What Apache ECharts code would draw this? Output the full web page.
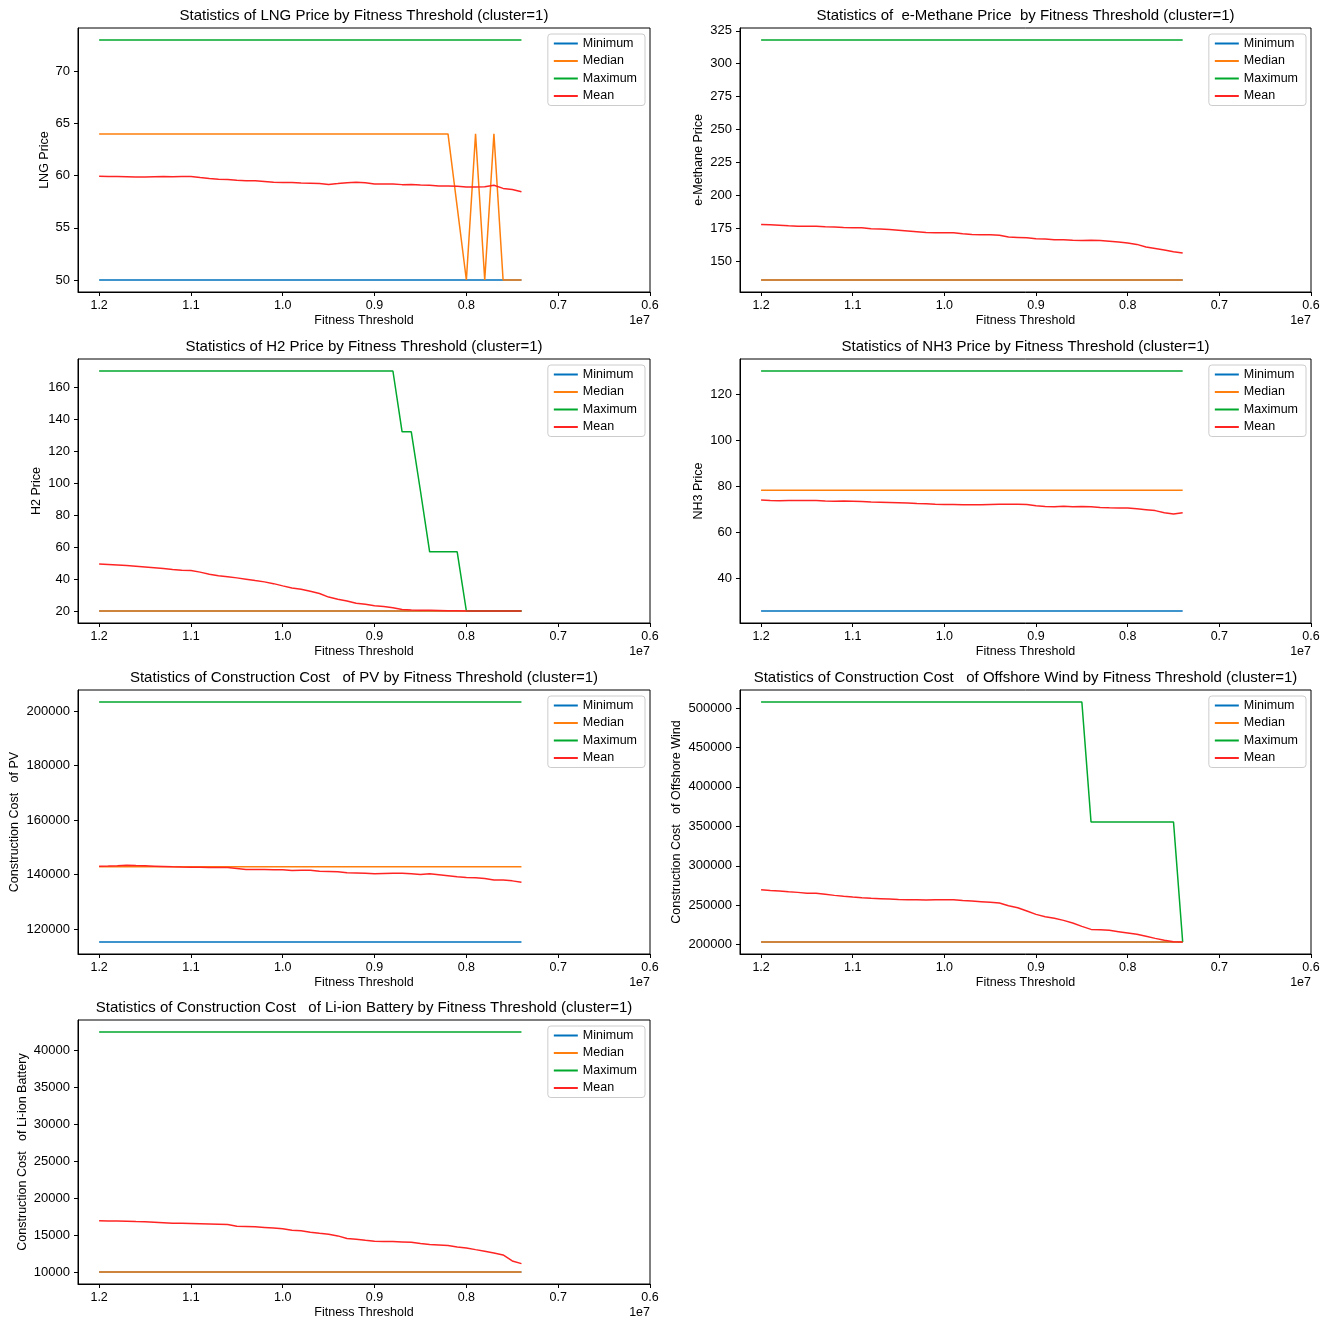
<!DOCTYPE html>
<html>
<head>
<meta charset="utf-8">
<script src="https://cdn.jsdelivr.net/npm/echarts@6/dist/echarts.min.js"></script>
<style>
  html, body { margin: 0; padding: 0; background: #fff; }
  #chart { width: 1329px; height: 1326px; }
</style>
</head>
<body>
<div id="chart"></div>
<script>
// fitness threshold, in units of 1e7
const thresholds = [
  1.20, 1.19, 1.18, 1.17, 1.16, 1.15, 1.14, 1.13, 1.12, 1.11,
  1.10, 1.09, 1.08, 1.07, 1.06, 1.05, 1.04, 1.03, 1.02, 1.01,
  1.00, 0.99, 0.98, 0.97, 0.96, 0.95, 0.94, 0.93, 0.92, 0.91,
  0.90, 0.89, 0.88, 0.87, 0.86, 0.85, 0.84, 0.83, 0.82, 0.81,
  0.80, 0.79, 0.78, 0.77, 0.76, 0.75, 0.74
]
const xTicks = [1.2, 1.1, 1.0, 0.9, 0.8, 0.7, 0.6]
const seriesNames = ['Minimum', 'Median', 'Maximum', 'Mean']

// LNG price
const lngMin = [
  50, 50, 50, 50, 50, 50, 50, 50, 50, 50,
  50, 50, 50, 50, 50, 50, 50, 50, 50, 50,
  50, 50, 50, 50, 50, 50, 50, 50, 50, 50,
  50, 50, 50, 50, 50, 50, 50, 50, 50, 50,
  50, 50, 50, 50, 50, 50, 50
]
const lngMedian = [
  64, 64, 64, 64, 64, 64, 64, 64, 64, 64,
  64, 64, 64, 64, 64, 64, 64, 64, 64, 64,
  64, 64, 64, 64, 64, 64, 64, 64, 64, 64,
  64, 64, 64, 64, 64, 64, 64, 64, 64, 57,
  50, 64, 50, 64, 50, 50, 50
]
const lngMax = [
  73, 73, 73, 73, 73, 73, 73, 73, 73, 73,
  73, 73, 73, 73, 73, 73, 73, 73, 73, 73,
  73, 73, 73, 73, 73, 73, 73, 73, 73, 73,
  73, 73, 73, 73, 73, 73, 73, 73, 73, 73,
  73, 73, 73, 73, 73, 73, 73
]
const lngMean = [
  59.94, 59.93, 59.92, 59.90, 59.88, 59.88, 59.90, 59.91, 59.90, 59.92,
  59.93, 59.82, 59.72, 59.66, 59.64, 59.55, 59.52, 59.52, 59.45, 59.37,
  59.34, 59.34, 59.30, 59.28, 59.24, 59.16, 59.24, 59.33, 59.36, 59.33,
  59.21, 59.20, 59.21, 59.14, 59.15, 59.10, 59.07, 59.02, 59.00, 58.98,
  58.91, 58.92, 58.93, 59.08, 58.78, 58.68, 58.45
]

// e-Methane price
const methaneMin = [
  136, 136, 136, 136, 136, 136, 136, 136, 136, 136,
  136, 136, 136, 136, 136, 136, 136, 136, 136, 136,
  136, 136, 136, 136, 136, 136, 136, 136, 136, 136,
  136, 136, 136, 136, 136, 136, 136, 136, 136, 136,
  136, 136, 136, 136, 136, 136, 136
]
const methaneMedian = [
  136, 136, 136, 136, 136, 136, 136, 136, 136, 136,
  136, 136, 136, 136, 136, 136, 136, 136, 136, 136,
  136, 136, 136, 136, 136, 136, 136, 136, 136, 136,
  136, 136, 136, 136, 136, 136, 136, 136, 136, 136,
  136, 136, 136, 136, 136, 136, 136
]
const methaneMax = [
  318, 318, 318, 318, 318, 318, 318, 318, 318, 318,
  318, 318, 318, 318, 318, 318, 318, 318, 318, 318,
  318, 318, 318, 318, 318, 318, 318, 318, 318, 318,
  318, 318, 318, 318, 318, 318, 318, 318, 318, 318,
  318, 318, 318, 318, 318, 318, 318
]
const methaneMean = [
  178.1, 177.9, 177.6, 177.1, 176.8, 176.8, 176.7, 176.3, 176.1, 175.8,
  175.6, 175.6, 174.8, 174.6, 174.3, 173.8, 173.2, 172.6, 172.0, 171.8,
  171.8, 171.8, 171.1, 170.5, 170.4, 170.3, 170.0, 168.6, 168.3, 168.0,
  167.3, 167.0, 166.5, 166.5, 166.2, 166.0, 166.1, 165.9, 165.4, 164.8,
  164.0, 163.0, 161.0, 159.9, 158.8, 157.5, 156.4
]

// H2 price
const h2Min = [
  20, 20, 20, 20, 20, 20, 20, 20, 20, 20,
  20, 20, 20, 20, 20, 20, 20, 20, 20, 20,
  20, 20, 20, 20, 20, 20, 20, 20, 20, 20,
  20, 20, 20, 20, 20, 20, 20, 20, 20, 20,
  20, 20, 20, 20, 20, 20, 20
]
const h2Median = [
  20, 20, 20, 20, 20, 20, 20, 20, 20, 20,
  20, 20, 20, 20, 20, 20, 20, 20, 20, 20,
  20, 20, 20, 20, 20, 20, 20, 20, 20, 20,
  20, 20, 20, 20, 20, 20, 20, 20, 20, 20,
  20, 20, 20, 20, 20, 20, 20
]
const h2Max = [
  170, 170, 170, 170, 170, 170, 170, 170, 170, 170,
  170, 170, 170, 170, 170, 170, 170, 170, 170, 170,
  170, 170, 170, 170, 170, 170, 170, 170, 170, 170,
  170, 170, 170, 132, 132, 95, 57, 57, 57, 57,
  20, 20, 20, 20, 20, 20, 20
]
const h2Mean = [
  49.3, 49.0, 48.7, 48.4, 48.0, 47.5, 47.0, 46.5, 45.9, 45.5,
  45.3, 44.3, 43.0, 42.0, 41.4, 40.7, 39.9, 39.0, 38.2, 37.1,
  35.7, 34.4, 33.6, 32.3, 30.9, 28.7, 27.4, 26.2, 24.9, 24.2,
  23.3, 22.8, 22.1, 21.0, 20.6, 20.4, 20.4, 20.3, 20.2, 20.1,
  20.0, 20.0, 20.0, 20.0, 20.0, 20.0, 20.0
]

// NH3 price
const nh3Min = [
  26, 26, 26, 26, 26, 26, 26, 26, 26, 26,
  26, 26, 26, 26, 26, 26, 26, 26, 26, 26,
  26, 26, 26, 26, 26, 26, 26, 26, 26, 26,
  26, 26, 26, 26, 26, 26, 26, 26, 26, 26,
  26, 26, 26, 26, 26, 26, 26
]
const nh3Median = [
  78.3, 78.3, 78.3, 78.3, 78.3, 78.3, 78.3, 78.3, 78.3, 78.3,
  78.3, 78.3, 78.3, 78.3, 78.3, 78.3, 78.3, 78.3, 78.3, 78.3,
  78.3, 78.3, 78.3, 78.3, 78.3, 78.3, 78.3, 78.3, 78.3, 78.3,
  78.3, 78.3, 78.3, 78.3, 78.3, 78.3, 78.3, 78.3, 78.3, 78.3,
  78.3, 78.3, 78.3, 78.3, 78.3, 78.3, 78.3
]
const nh3Max = [
  130, 130, 130, 130, 130, 130, 130, 130, 130, 130,
  130, 130, 130, 130, 130, 130, 130, 130, 130, 130,
  130, 130, 130, 130, 130, 130, 130, 130, 130, 130,
  130, 130, 130, 130, 130, 130, 130, 130, 130, 130,
  130, 130, 130, 130, 130, 130, 130
]
const nh3Mean = [
  74.1, 73.9, 73.8, 73.9, 73.9, 73.9, 73.9, 73.7, 73.6, 73.7,
  73.6, 73.4, 73.2, 73.1, 73.0, 72.9, 72.8, 72.6, 72.5, 72.3,
  72.2, 72.1, 72.0, 72.0, 72.0, 72.2, 72.3, 72.3, 72.3, 72.2,
  71.6, 71.3, 71.2, 71.4, 71.2, 71.3, 71.2, 70.9, 70.7, 70.6,
  70.6, 70.3, 69.9, 69.5, 68.6, 68.0, 68.6
]

// construction cost of PV
const pvMin = [
  115200, 115200, 115200, 115200, 115200, 115200, 115200, 115200, 115200, 115200,
  115200, 115200, 115200, 115200, 115200, 115200, 115200, 115200, 115200, 115200,
  115200, 115200, 115200, 115200, 115200, 115200, 115200, 115200, 115200, 115200,
  115200, 115200, 115200, 115200, 115200, 115200, 115200, 115200, 115200, 115200,
  115200, 115200, 115200, 115200, 115200, 115200, 115200
]
const pvMedian = [
  142800, 142800, 142800, 142800, 142800, 142800, 142800, 142800, 142800, 142800,
  142800, 142800, 142800, 142800, 142800, 142800, 142800, 142800, 142800, 142800,
  142800, 142800, 142800, 142800, 142800, 142800, 142800, 142800, 142800, 142800,
  142800, 142800, 142800, 142800, 142800, 142800, 142800, 142800, 142800, 142800,
  142800, 142800, 142800, 142800, 142800, 142800, 142800
]
const pvMax = [
  203300, 203300, 203300, 203300, 203300, 203300, 203300, 203300, 203300, 203300,
  203300, 203300, 203300, 203300, 203300, 203300, 203300, 203300, 203300, 203300,
  203300, 203300, 203300, 203300, 203300, 203300, 203300, 203300, 203300, 203300,
  203300, 203300, 203300, 203300, 203300, 203300, 203300, 203300, 203300, 203300,
  203300, 203300, 203300, 203300, 203300, 203300, 203300
]
const pvMean = [
  143030, 143080, 143200, 143400, 143250, 143150, 143050, 142950, 142800, 142700,
  142660, 142600, 142540, 142560, 142540, 142170, 141800, 141800, 141800, 141750,
  141680, 141440, 141500, 141560, 141190, 141100, 140950, 140580, 140520, 140460,
  140210, 140330, 140460, 140460, 140210, 139970, 140210, 139850, 139480, 139110,
  138870, 138740, 138500, 138000, 138000, 137640, 137150
]

// construction cost of offshore wind
const windMin = [
  203400, 203400, 203400, 203400, 203400, 203400, 203400, 203400, 203400, 203400,
  203400, 203400, 203400, 203400, 203400, 203400, 203400, 203400, 203400, 203400,
  203400, 203400, 203400, 203400, 203400, 203400, 203400, 203400, 203400, 203400,
  203400, 203400, 203400, 203400, 203400, 203400, 203400, 203400, 203400, 203400,
  203400, 203400, 203400, 203400, 203400, 203400, 203400
]
const windMedian = [
  203400, 203400, 203400, 203400, 203400, 203400, 203400, 203400, 203400, 203400,
  203400, 203400, 203400, 203400, 203400, 203400, 203400, 203400, 203400, 203400,
  203400, 203400, 203400, 203400, 203400, 203400, 203400, 203400, 203400, 203400,
  203400, 203400, 203400, 203400, 203400, 203400, 203400, 203400, 203400, 203400,
  203400, 203400, 203400, 203400, 203400, 203400, 203400
]
const windMax = [
  507600, 507600, 507600, 507600, 507600, 507600, 507600, 507600, 507600, 507600,
  507600, 507600, 507600, 507600, 507600, 507600, 507600, 507600, 507600, 507600,
  507600, 507600, 507600, 507600, 507600, 507600, 507600, 507600, 507600, 507600,
  507600, 507600, 507600, 507600, 507600, 507600, 355500, 355500, 355500, 355500,
  355500, 355500, 355500, 355500, 355500, 355500, 203400
]
const windMean = [
  269700, 268800, 268000, 267100, 266300, 265100, 265100, 263800, 262500, 261400,
  260400, 259500, 258700, 258300, 257900, 257400, 257000, 256800, 256600, 256800,
  257000, 257000, 256100, 255300, 254500, 253700, 252800, 249400, 246900, 242700,
  238400, 235500, 233400, 230800, 227500, 223200, 219400, 219000, 218200, 216500,
  214800, 213100, 210600, 208000, 205500, 203800, 203400
]

// construction cost of Li-ion battery
const batteryMin = [
  10090, 10090, 10090, 10090, 10090, 10090, 10090, 10090, 10090, 10090,
  10090, 10090, 10090, 10090, 10090, 10090, 10090, 10090, 10090, 10090,
  10090, 10090, 10090, 10090, 10090, 10090, 10090, 10090, 10090, 10090,
  10090, 10090, 10090, 10090, 10090, 10090, 10090, 10090, 10090, 10090,
  10090, 10090, 10090, 10090, 10090, 10090, 10090
]
const batteryMedian = [
  10090, 10090, 10090, 10090, 10090, 10090, 10090, 10090, 10090, 10090,
  10090, 10090, 10090, 10090, 10090, 10090, 10090, 10090, 10090, 10090,
  10090, 10090, 10090, 10090, 10090, 10090, 10090, 10090, 10090, 10090,
  10090, 10090, 10090, 10090, 10090, 10090, 10090, 10090, 10090, 10090,
  10090, 10090, 10090, 10090, 10090, 10090, 10090
]
const batteryMax = [
  42470, 42470, 42470, 42470, 42470, 42470, 42470, 42470, 42470, 42470,
  42470, 42470, 42470, 42470, 42470, 42470, 42470, 42470, 42470, 42470,
  42470, 42470, 42470, 42470, 42470, 42470, 42470, 42470, 42470, 42470,
  42470, 42470, 42470, 42470, 42470, 42470, 42470, 42470, 42470, 42470,
  42470, 42470, 42470, 42470, 42470, 42470, 42470
]
const batteryMean = [
  16990, 16970, 16960, 16950, 16900, 16860, 16800, 16740, 16680, 16660,
  16630, 16600, 16570, 16540, 16490, 16270, 16230, 16180, 16110, 16040,
  15910, 15730, 15640, 15460, 15320, 15190, 14960, 14600, 14510, 14370,
  14240, 14220, 14190, 14150, 14100, 13920, 13790, 13740, 13650, 13470,
  13340, 13110, 12890, 12660, 12390, 11580, 11220
]

// y tick labels per panel
const lngTicks = [50, 55, 60, 65, 70]
const methaneTicks = [150, 175, 200, 225, 250, 275, 300, 325]
const h2Ticks = [20, 40, 60, 80, 100, 120, 140, 160]
const nh3Ticks = [40, 60, 80, 100, 120]
const pvTicks = [120000, 140000, 160000, 180000, 200000]
const windTicks = [200000, 250000, 300000, 350000, 400000, 450000, 500000]
const batteryTicks = [10000, 15000, 20000, 25000, 30000, 35000, 40000]

const panels = [
  { title: 'Statistics of LNG Price by Fitness Threshold (cluster=1)', ylabel: 'LNG Price',
    data: [lngMin, lngMedian, lngMax, lngMean], ticks: lngTicks, row: 0, col: 0, gap: 27 },
  { title: 'Statistics of  e-Methane Price  by Fitness Threshold (cluster=1)', ylabel: 'e-Methane Price',
    data: [methaneMin, methaneMedian, methaneMax, methaneMean], ticks: methaneTicks, row: 0, col: 1, gap: 35 },
  { title: 'Statistics of H2 Price by Fitness Threshold (cluster=1)', ylabel: 'H2 Price',
    data: [h2Min, h2Median, h2Max, h2Mean], ticks: h2Ticks, row: 1, col: 0, gap: 35 },
  { title: 'Statistics of NH3 Price by Fitness Threshold (cluster=1)', ylabel: 'NH3 Price',
    data: [nh3Min, nh3Median, nh3Max, nh3Mean], ticks: nh3Ticks, row: 1, col: 1, gap: 35 },
  { title: 'Statistics of Construction Cost   of PV by Fitness Threshold (cluster=1)', ylabel: 'Construction Cost   of PV',
    data: [pvMin, pvMedian, pvMax, pvMean], ticks: pvTicks, row: 2, col: 0, gap: 57 },
  { title: 'Statistics of Construction Cost   of Offshore Wind by Fitness Threshold (cluster=1)', ylabel: 'Construction Cost   of Offshore Wind',
    data: [windMin, windMedian, windMax, windMean], ticks: windTicks, row: 2, col: 1, gap: 57 },
  { title: 'Statistics of Construction Cost   of Li-ion Battery by Fitness Threshold (cluster=1)', ylabel: 'Construction Cost   of Li-ion Battery',
    data: [batteryMin, batteryMedian, batteryMax, batteryMean], ticks: batteryTicks, row: 3, col: 0, gap: 49 }
]

const colors = ['#0072bd', '#ff7f0e', '#00a82d', '#ff2424']
const FONT = 'Liberation Sans'
const colLeft = [78, 740]
const colWidth = [572, 571]
const rowTop = [28, 359, 690, 1020]
const plotH = 264

// x range like matplotlib: 5% margin on the data side, fixed 0.6 on the other
const xLo = Math.min(...thresholds)
const xHi = Math.max(...thresholds)
const xMaxAxis = xHi + 0.05 * (xHi - xLo)

const option = {
  animation: false,
  backgroundColor: '#fff',
  title: [], grid: [], xAxis: [], yAxis: [], legend: [], series: [], graphic: []
}

panels.forEach((p, i) => {
  const left = colLeft[p.col]
  const width = colWidth[p.col]
  const top = rowTop[p.row]
  const all = [].concat(...p.data)
  const lo = Math.min(...all)
  const hi = Math.max(...all)
  const pad = 0.05 * (hi - lo)

  option.title.push({
    text: p.title, left: left + width / 2, top: top - 20, textAlign: 'center', padding: 0,
    textStyle: { fontFamily: FONT, fontSize: 15, fontWeight: 'normal', color: '#000' }
  })
  option.grid.push({
    left: left, top: top, width: width, height: plotH,
    show: true, borderColor: '#000', borderWidth: 1, backgroundColor: 'transparent'
  })
  option.xAxis.push({
    type: 'value', gridIndex: i, inverse: true, min: 0.6, max: xMaxAxis,
    name: 'Fitness Threshold', nameLocation: 'middle', nameGap: 22,
    nameTextStyle: { fontFamily: FONT, fontSize: 12.5, color: '#000' },
    axisLine: { onZero: false, lineStyle: { color: '#000', width: 1 } },
    axisTick: { inside: false, length: 4, lineStyle: { color: '#000' }, customValues: xTicks },
    axisLabel: { margin: 7, fontFamily: FONT, fontSize: 12.5, color: '#000', customValues: xTicks,
      formatter: v => v.toFixed(1) },
    splitLine: { show: false }
  })
  option.yAxis.push({
    type: 'value', gridIndex: i, min: lo - pad, max: hi + pad,
    name: p.ylabel, nameLocation: 'middle', nameGap: p.gap, nameRotate: 90,
    nameTextStyle: { fontFamily: FONT, fontSize: 12.5, color: '#000' },
    axisLine: { show: true, lineStyle: { color: '#000', width: 1 } },
    axisTick: { show: true, inside: false, length: 4, lineStyle: { color: '#000' }, customValues: p.ticks },
    axisLabel: { margin: 8, fontFamily: FONT, fontSize: 13, color: '#000', customValues: p.ticks,
      formatter: v => String(v) },
    splitLine: { show: false }
  })
  option.legend.push({
    data: seriesNames, orient: 'vertical',
    right: 1329 - (left + width) + 5, top: top + 6,
    icon: 'rect', itemWidth: 24, itemHeight: 2, itemGap: 4.5,
    padding: [3, 8, 3, 6], borderColor: '#cccccc', borderWidth: 1, borderRadius: 3,
    backgroundColor: 'rgba(255,255,255,0.8)',
    textStyle: { fontFamily: FONT, fontSize: 12.5, color: '#000', lineHeight: 13 },
    selectedMode: false
  })
  p.data.forEach((arr, k) => {
    option.series.push({
      name: seriesNames[k], type: 'line', xAxisIndex: i, yAxisIndex: i,
      data: thresholds.map((t, j) => [t, arr[j]]),
      showSymbol: false, symbol: 'none', z: 2 + k,
      color: colors[k],
      lineStyle: { color: colors[k], width: 1.5 }
    })
  })
  option.graphic.push({
    type: 'text', right: 1329 - (left + width), top: top + plotH + 22,
    style: { text: '1e7', fontFamily: FONT, fontSize: 12.5, fill: '#000' }
  })
})

const chart = echarts.init(document.getElementById('chart'))
chart.setOption(option)
</script>
</body>
</html>
